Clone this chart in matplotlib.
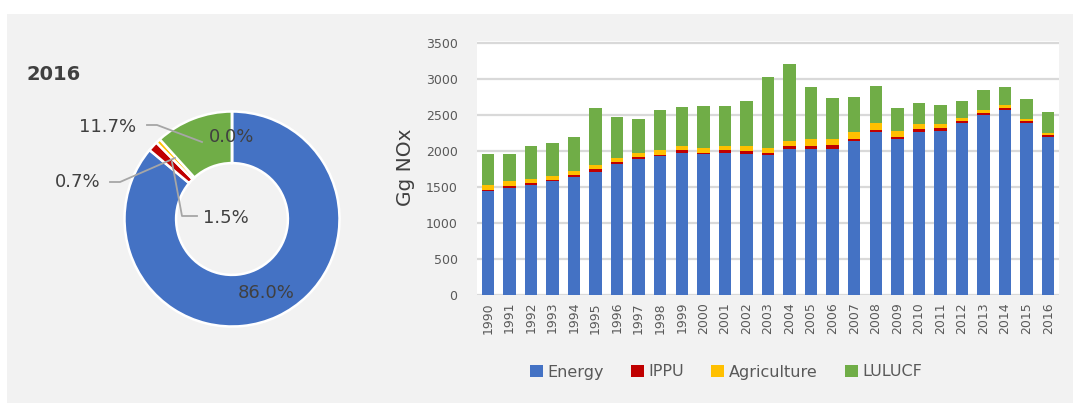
import matplotlib
matplotlib.use('Agg')
import matplotlib.pyplot as plt
import numpy as np
from matplotlib.patches import Rectangle

# data
years = [str(y) for y in range(1990, 2017)]
energy = [1440, 1490, 1530, 1580, 1635, 1705, 1815, 1890, 1925, 1970,
          1955, 1970, 1960, 1940, 2030, 2030, 2030, 2135, 2260, 2160,
          2260, 2280, 2385, 2495, 2565, 2385, 2190]
ippu = [20, 20, 30, 20, 25, 40, 30, 20, 20, 40,
        20, 40, 35, 35, 35, 35, 55, 35, 35, 35,
        40, 35, 35, 35, 35, 35, 35]
agriculture = [70, 70, 55, 55, 65, 65, 60, 65, 70, 50,
               70, 55, 70, 70, 75, 95, 75, 95, 85, 85,
               65, 50, 40, 40, 40, 20, 20]
lulucf = [430, 380, 445, 460, 465, 790, 570, 460, 550, 550,
          570, 550, 625, 985, 1070, 725, 570, 475, 520, 320,
          305, 265, 230, 280, 245, 285, 300]
series_names = ['Energy', 'IPPU', 'Agriculture', 'LULUCF']
colors = ['#4472C4', '#C00000', '#FFC000', '#70AD47']

pie_year = '2016'
pie_values = [86.0, 1.5, 0.7, 11.7, 0.0]
pie_labels = ['86.0%', '1.5%', '0.7%', '11.7%', '0.0%']
pie_colors = colors + ['#A5A5A5']

W, H = 1073, 403
fig = plt.figure(figsize=(W / 100, H / 100), dpi=100)
fig.patch.set_facecolor('white')
fig.patches.append(Rectangle((7 / W, 0), 1 - 7 / W, 1 - 14 / H,
                             transform=fig.transFigure, facecolor='#f2f2f2',
                             edgecolor='none', zorder=-5))

txt = '#595959'

# ---- stacked bars ----
ax = fig.add_axes([477 / W, 1 - 295 / H, (1059 - 477) / W, (295 - 40.5) / H])
ax.set_facecolor('white')
x = np.arange(len(years))
bottom = np.zeros(len(years))
for name, vals, c in zip(series_names, [energy, ippu, agriculture, lulucf], colors):
    ax.bar(x, vals, 0.58, bottom=bottom, color=c, label=name, zorder=3)
    bottom += np.array(vals)
ax.set_xlim(-0.5, len(years) - 0.5)
ax.set_ylim(0, 3530)
ax.set_yticks(range(0, 3501, 500))
ax.set_xticks(x)
ax.set_xticklabels(years, rotation=90)
ax.tick_params(axis='both', length=0, colors=txt, labelsize=9)
ax.tick_params(axis='y', pad=14)
ax.tick_params(axis='x', pad=5)
ax.grid(axis='y', color='#d9d9d9', linewidth=1.6, zorder=0)
for s in ax.spines.values():
    s.set_visible(False)
ax.set_ylabel('Gg NOx', fontsize=14.5, color='#404040', labelpad=8)

leg = fig.legend(loc='center', bbox_to_anchor=(726 / W, 1 - 372 / H), ncol=4,
                 frameon=False, fontsize=11.5, handlelength=0.8, handleheight=0.8,
                 handletextpad=0.3, columnspacing=1.7)
for t in leg.get_texts():
    t.set_color(txt)

# ---- donut ----
r_px = 107.5
cx, cy = 232, 219
half = 115
pax = fig.add_axes([(cx - half) / W, 1 - (cy + half) / H, 2 * half / W, 2 * half / H])
pax.pie(pie_values, colors=pie_colors, startangle=90, counterclock=False,
        radius=1, wedgeprops=dict(width=0.48, edgecolor='white', linewidth=1.8))
lim = half / r_px
pax.set_xlim(-lim, lim)
pax.set_ylim(-lim, lim)
pax.set_aspect('auto')
pax.axis('off')


def p(px, py):
    return (px - cx) / r_px, (cy - py) / r_px


label_pos = [(266, 293), (226, 218), (78, 182), (108, 127), (232, 137)]
leaders = [None,
           [(197, 216), (182, 216), (172, 162)],
           [(110, 182), (120, 182), (175, 158)],
           [(147, 125), (157, 125), (202, 142)],
           None]
for lab, pos, ld in zip(pie_labels, label_pos, leaders):
    tx, ty = p(*pos)
    pax.text(tx, ty, lab, ha='center', va='center', fontsize=13, color='#404040')
    if ld:
        pts = np.array([p(*q) for q in ld])
        pax.plot(pts[:, 0], pts[:, 1], color='#a6a6a6', linewidth=1.3, clip_on=False)

fig.text(26 / W, 1 - 75 / H, pie_year, fontsize=14, fontweight='bold',
         color='#404040', ha='left', va='center')

fig.savefig('out.png', dpi=100, facecolor=fig.get_facecolor())
